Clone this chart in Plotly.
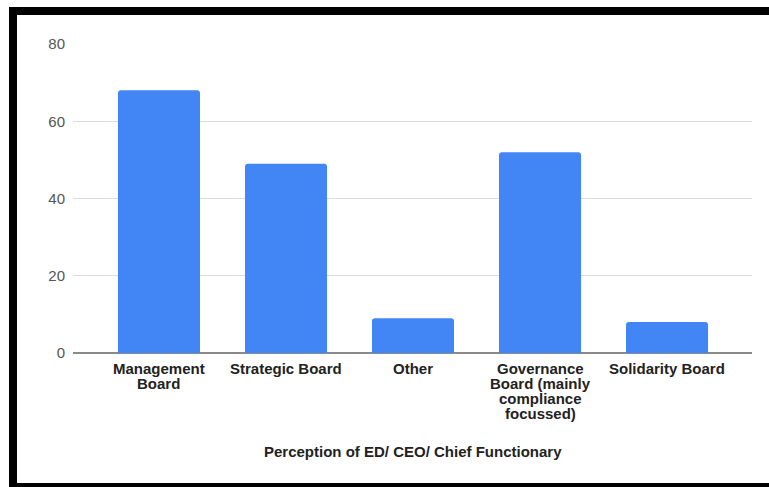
import plotly.graph_objects as go

# Survey responses: how the ED/ CEO/ Chief Functionary perceives the board
categories = [
    "Management\nBoard",
    "Strategic Board",
    "Other",
    "Governance\nBoard (mainly\ncompliance\nfocussed)",
    "Solidarity Board",
]
counts = [68, 49, 9, 52, 8]
y_ticks = [0, 20, 40, 60, 80]
x_title = "Perception of ED/ CEO/ Chief Functionary"

W, H = 769, 487
ML, MR, MT, MB = 73, 17, 44, 134
FONT = "Liberation Sans, Arial, sans-serif"

fig = go.Figure(
    go.Bar(
        x=categories,
        y=counts,
        marker=dict(color="#4285F4", line=dict(width=0)),
        hoverinfo="x+y",
    )
)

# Category labels, one annotation per line for tight line spacing
annotations = []
line_h = 15
for cat in categories:
    for j, line in enumerate(cat.split("\n")):
        annotations.append(dict(
            x=cat, xref="x", y=0, yref="paper",
            yanchor="top", xanchor="center",
            yshift=-(5 + j * line_h),
            text=f"<b>{line}</b>", showarrow=False,
            font=dict(family=FONT, size=15, color="#222222"),
        ))
annotations.append(dict(
    x=0.5, xref="paper", y=0, yref="paper",
    yanchor="top", xanchor="center", yshift=-88,
    text=f"<b>{x_title}</b>", showarrow=False,
    font=dict(family=FONT, size=15, color="#222222"),
))

# Thick black frame around the chart (in pixel units converted to paper)
pw, ph = W - ML - MR, H - MT - MB
def px_x(p):
    return (p - ML) / pw
def px_y(p):
    return (H - MB - p) / ph

frame = dict(
    type="rect", xref="paper", yref="paper",
    x0=px_x(13), x1=px_x(790), y0=px_y(11), y1=px_y(487),
    line=dict(color="black", width=8), fillcolor="rgba(0,0,0,0)",
    layer="above",
)

# Categories sit inside padded horizontal range, as in the gridline span
n = len(categories)
x_range = [-0.677, n - 1 + 0.669]

fig.update_layout(
    width=W, height=H,
    margin=dict(l=ML, r=MR, t=MT, b=MB, pad=0),
    paper_bgcolor="white", plot_bgcolor="white",
    bargap=0.354,
    barcornerradius=3,
    showlegend=False,
    font=dict(family=FONT),
    annotations=annotations,
    shapes=[frame],
    xaxis=dict(
        range=x_range,
        showticklabels=False, showgrid=False, ticks="",
        showline=False, zeroline=False,
    ),
    yaxis=dict(
        range=[0, 80], tickvals=y_ticks,
        showgrid=True, gridcolor="#dcdcdc", gridwidth=1,
        zeroline=True, zerolinecolor="#8a8a8a", zerolinewidth=2,
        showline=False, ticks="",
        tickfont=dict(family=FONT, size=15, color="#555555"),
        ticklabelstandoff=7,
    ),
)

fig.write_html("out.html")
